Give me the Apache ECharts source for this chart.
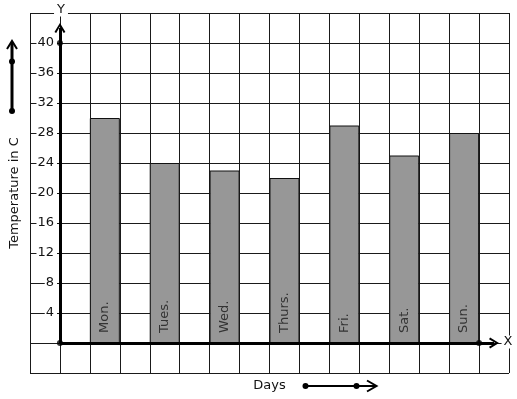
<!DOCTYPE html>
<html><head><meta charset="utf-8">
<script src="https://cdn.jsdelivr.net/npm/echarts@6/dist/echarts.min.js"></script>
<style>html,body{margin:0;padding:0;background:#fff}#c{width:517px;height:399px}</style>
</head><body><div id="c"></div>
<script>
// ---- data ----
const days = ['Mon.', 'Tues.', 'Wed.', 'Thurs.', 'Fri.', 'Sat.', 'Sun.'];
const temperatures = [30, 24, 23, 22, 29, 25, 28];
const yTickLabels = [4, 8, 12, 16, 20, 24, 28, 32, 36, 40];
const yAxisTitle = 'Temperature in C';
const xAxisTitle = 'Days';

// ---- layout helpers ----
const FONT = 'DejaVu Sans';
const CHEVRON = 'path://M5,0 L10,8.5 L8.4,9.5 L5,3.4 L1.6,9.5 L0,8.5 Z';
// each day occupies every second grid column, starting at x = 1
const barData = temperatures.map((t, i) => [1.5 + 2 * i, t]);

const chart = echarts.init(document.getElementById('c'), null, {renderer: 'canvas'});
chart.setOption({
  animation: false,
  backgroundColor: '#fff',
  grid: {left: 29, right: 8, top: 13, bottom: 26, containLabel: false},
  xAxis: {
    type: 'value', min: -1, max: 15, interval: 1,
    axisLine: {show: false}, axisTick: {show: false}, axisLabel: {show: false},
    splitLine: {show: true, lineStyle: {color: '#1a1a1a', width: 1}},
    name: xAxisTitle, nameLocation: 'middle', nameGap: 6,
    nameTextStyle: {fontFamily: FONT, fontSize: 13, color: '#111', verticalAlign: 'top'}
  },
  yAxis: [{
    type: 'value', min: -4, max: 44, interval: 4,
    axisLine: {show: false}, axisTick: {show: false}, axisLabel: {show: false},
    splitLine: {show: true, lineStyle: {color: '#1a1a1a', width: 1}},
    name: yAxisTitle, nameLocation: 'middle', nameGap: 9,
    nameTextStyle: {fontFamily: FONT, fontSize: 13, color: '#111'}
  }, {
    type: 'value', min: -4, max: 44, interval: 4, position: 'left', z: 5,
    axisLine: {show: false}, axisTick: {show: false}, splitLine: {show: false},
    axisLabel: {
      show: true, customValues: yTickLabels, margin: -27,
      fontFamily: FONT, fontSize: 13, color: '#111',
      backgroundColor: '#fff', padding: [1, 3, 0, 1]
    }
  }],
  series: [{
    type: 'bar', data: barData, barWidth: 30, z: 2,
    itemStyle: {color: '#979797', borderColor: '#111', borderWidth: 1},
    label: {
      show: true, position: 'insideBottom', rotate: 90, distance: 10,
      align: 'left', verticalAlign: 'middle',
      fontFamily: FONT, fontSize: 13, color: '#333',
      formatter: p => days[p.dataIndex]
    },
    markLine: {
      silent: true, z: 4,
      symbol: ['none', CHEVRON], symbolSize: [11, 10],
      lineStyle: {color: '#000', width: 3, type: 'solid'},
      label: {show: false},
      data: [
        [{coord: [0, 0]}, {coord: [0, 42]}],
        [{coord: [0, 0]}, {coord: [14.5, 0]}]
      ]
    }
  }, {
    type: 'scatter', z: 5, silent: true,
    data: [[0, 0], [0, 40], [14, 0]],
    symbol: 'circle', symbolSize: 6,
    itemStyle: {color: '#000'}
  }],
  graphic: [
    {type: 'text', x: 61, y: 10, z: 10, style: {text: 'Y', fontFamily: FONT, fontSize: 13, fill: '#111', align: 'center', verticalAlign: 'middle', backgroundColor: '#fff', padding: [0, 3]}},
    {type: 'text', x: 508, y: 342, z: 10, style: {text: 'X', fontFamily: FONT, fontSize: 13, fill: '#111', align: 'center', verticalAlign: 'middle', backgroundColor: '#fff', padding: [0, 2]}},
    // left decorative arrow
    {type: 'line', z: 10, shape: {x1: 12, y1: 111, x2: 12, y2: 42}, style: {stroke: '#000', lineWidth: 3}},
    {type: 'polyline', z: 10, shape: {points: [[7, 49], [12, 41], [17, 49]]}, style: {stroke: '#000', lineWidth: 2, fill: null}},
    {type: 'circle', z: 10, shape: {cx: 12, cy: 61.5, r: 3}, style: {fill: '#000'}},
    {type: 'circle', z: 10, shape: {cx: 12, cy: 111, r: 3}, style: {fill: '#000'}},
    // bottom decorative arrow
    {type: 'line', z: 10, shape: {x1: 305.5, y1: 386, x2: 375, y2: 386}, style: {stroke: '#000', lineWidth: 2}},
    {type: 'polyline', z: 10, shape: {points: [[367, 380.5], [376.5, 386], [367, 391.5]]}, style: {stroke: '#000', lineWidth: 2, fill: null}},
    {type: 'circle', z: 10, shape: {cx: 305.5, cy: 386, r: 3}, style: {fill: '#000'}},
    {type: 'circle', z: 10, shape: {cx: 356.5, cy: 386, r: 3}, style: {fill: '#000'}}
  ]
});
</script>
</body></html>
